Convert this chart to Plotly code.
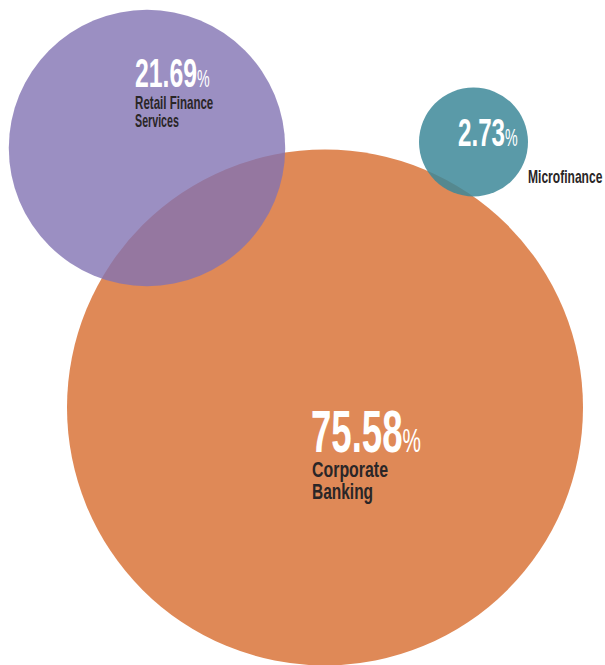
import json
import plotly.graph_objects as go

# ---- data ----
segments = ["Corporate Banking", "Retail Finance Services", "Microfinance"]
shares = [75.58, 21.69, 2.73]
label_lines = [["Corporate", "Banking"], ["Retail Finance", "Services"], ["Microfinance"]]

# ---- layout / style (pixel coordinates of the page) ----
W, H = 605, 665
centers_x = [325, 147, 473.5]
centers_y = [407.5, 148, 142]
fills = ["rgb(223,137,87)", "rgb(130,115,179)", "rgb(61,136,153)"]
alphas = [1.0, 0.8, 0.85]
max_diam = 516
FONT = "Liberation Sans, Arial, sans-serif"
WHITE = "#FFFFFF"
DARK = "#2A2627"

fig = go.Figure()
fig.add_trace(go.Scatter(
    x=centers_x, y=centers_y, mode="markers",
    text=segments, hoverinfo="text",
    marker=dict(
        size=shares, sizemode="area",
        sizeref=2 * max(shares) / (max_diam ** 2),
        sizemin=54.5,
        color=fills, opacity=alphas,
        line=dict(width=0),
    ),
    cliponaxis=False, showlegend=False,
))

# text placement: x = left edge, y = middle of capital height
num_pos = [
    dict(x=311, y=431.5, size=60, psize=34, sx=0.61),
    dict(x=134.5, y=72.5, size=40, psize=23, sx=0.62),
    dict(x=457.5, y=132, size=39, psize=23, sx=0.62),
]
lab_pos = [
    [dict(x=311.5, y=469.5, size=21.5, sx=0.74), dict(x=311.5, y=492, size=21.5, sx=0.72)],
    [dict(x=134.5, y=103, size=17.5, sx=0.66), dict(x=134.5, y=121, size=17.5, sx=0.61)],
    [dict(x=528, y=176.5, size=18, sx=0.67)],
]

annotations = []
scales = []
for i, v in enumerate(shares):
    p = num_pos[i]
    annotations.append(dict(
        x=p["x"], y=p["y"], xref="x", yref="y",
        xanchor="left", yanchor="middle", showarrow=False,
        text=f"<b>{v:.2f}</b><span style='font-size:{p['psize']}px'>%</span>",
        font=dict(family=FONT, size=p["size"], color=WHITE),
        borderpad=0, borderwidth=0,
    ))
    scales.append(p["sx"])
    for line, lp in zip(label_lines[i], lab_pos[i]):
        annotations.append(dict(
            x=lp["x"], y=lp["y"], xref="x", yref="y",
            xanchor="left", yanchor="middle", showarrow=False,
            text=f"<b>{line}</b>",
            font=dict(family=FONT, size=lp["size"], color=DARK),
            borderpad=0, borderwidth=0,
        ))
        scales.append(lp["sx"])

fig.update_layout(
    width=W, height=H,
    margin=dict(l=0, r=0, t=0, b=0),
    paper_bgcolor="white", plot_bgcolor="white",
    xaxis=dict(range=[0, W], visible=False, fixedrange=True),
    yaxis=dict(range=[H, 0], visible=False, fixedrange=True),
    annotations=annotations,
)

# condensed lettering: squeeze each annotation text horizontally about its left edge
post = """
var gd = document.getElementById('{plot_id}');
var scales = %s;
function squeeze() {
  gd.querySelectorAll('g.annotation').forEach(function (g) {
    var idx = +g.getAttribute('data-index');
    var t = g.querySelector('text.annotation-text');
    if (!t || scales[idx] === undefined) return;
    t.style.transformBox = 'fill-box';
    t.style.transformOrigin = 'left center';
    t.style.transform = 'scaleX(' + scales[idx] + ')';
  });
}
squeeze();
gd.on('plotly_afterplot', squeeze);
""" % json.dumps(scales)

fig.write_html("out.html", config={"displayModeBar": False}, post_script=post)
